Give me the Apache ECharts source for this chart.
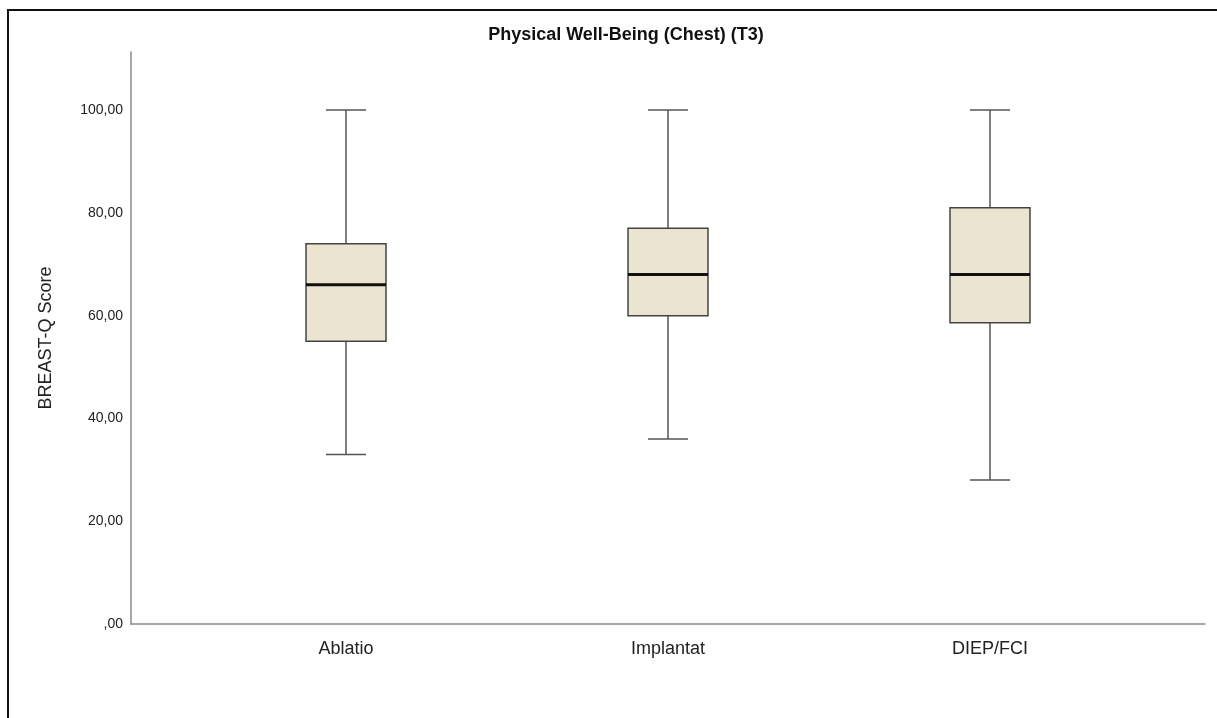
<!DOCTYPE html>
<html>
<head>
<meta charset="utf-8">
<script src="https://cdn.jsdelivr.net/npm/echarts@6/dist/echarts.min.js"></script>
<style>
  html, body { margin: 0; padding: 0; background: #fff; }
  #chart { width: 1217px; height: 718px; }
</style>
</head>
<body>
<div id="chart"></div>
<script>
// Groups and their five-number summaries (min, Q1, median, Q3, max)
const categories = ['Ablatio', 'Implantat', 'DIEP/FCI'];
const minima  = [33.0, 36.0, 28.0];
const q1      = [55.0, 60.0, 58.6];
const medians = [66.0, 68.0, 68.0];
const q3      = [74.0, 77.0, 81.0];
const maxima  = [100.0, 100.0, 100.0];
const yTicks  = [0, 20, 40, 60, 80, 100];

const yMax = 111.3;
const font = '"Liberation Sans", Arial, sans-serif';

const boxData = categories.map((c, i) => [i, minima[i], q1[i], medians[i], q3[i], maxima[i]]);

function renderBox(params, api) {
  const idx = api.value(0);
  const lo = api.coord([idx, api.value(1)]);
  const b1 = api.coord([idx, api.value(2)]);
  const md = api.coord([idx, api.value(3)]);
  const b3 = api.coord([idx, api.value(4)]);
  const hi = api.coord([idx, api.value(5)]);
  const cx = lo[0];
  const boxW = 80;
  const capW = 40;
  const whisker = { stroke: '#555', lineWidth: 1.5 };
  return {
    type: 'group',
    children: [
      { type: 'line', shape: { x1: cx, y1: hi[1], x2: cx, y2: b3[1] }, style: whisker },
      { type: 'line', shape: { x1: cx, y1: b1[1], x2: cx, y2: lo[1] }, style: whisker },
      { type: 'line', shape: { x1: cx - capW / 2, y1: hi[1], x2: cx + capW / 2, y2: hi[1] }, style: whisker },
      { type: 'line', shape: { x1: cx - capW / 2, y1: lo[1], x2: cx + capW / 2, y2: lo[1] }, style: whisker },
      { type: 'rect', shape: { x: cx - boxW / 2, y: b3[1], width: boxW, height: b1[1] - b3[1] },
        style: { fill: '#eae4d1', stroke: '#444', lineWidth: 1.5 } },
      { type: 'line', shape: { x1: cx - boxW / 2, y1: md[1], x2: cx + boxW / 2, y2: md[1] },
        style: { stroke: '#111', lineWidth: 3 } }
    ]
  };
}

const chart = echarts.init(document.getElementById('chart'), null, { renderer: 'canvas' });
chart.setOption({
  backgroundColor: '#fff',
  animation: false,
  title: {
    text: 'Physical Well-Being (Chest) (T3)',
    left: 621, top: 21, textAlign: 'center',
    textStyle: { fontFamily: font, fontSize: 18, fontWeight: 'bold', color: '#111' }
  },
  graphic: [
    { type: 'rect', shape: { x: 8, y: 10, width: 1400, height: 900 },
      style: { fill: 'none', stroke: '#111', lineWidth: 2 }, silent: true }
  ],
  grid: [
    { left: 131, right: 12, top: 52, bottom: 94 },
    { left: 185, right: 66, top: 52, bottom: 94 }
  ],
  xAxis: [
    { gridIndex: 0, type: 'value', min: 0, max: 1,
      axisLine: { show: true, lineStyle: { color: '#8a8a8a', width: 1.5 } },
      axisTick: { show: false }, axisLabel: { show: false }, splitLine: { show: false } },
    { gridIndex: 1, type: 'category', data: categories, boundaryGap: true,
      axisLine: { show: false }, axisTick: { show: false }, splitLine: { show: false },
      axisLabel: { fontFamily: font, fontSize: 18, color: '#222', margin: 16 } }
  ],
  yAxis: [
    { gridIndex: 0, type: 'value', min: 0, max: yMax, interval: 20,
      name: 'BREAST-Q Score', nameLocation: 'middle', nameGap: 76,
      nameTextStyle: { fontFamily: font, fontSize: 18, color: '#222' },
      axisLine: { show: true, lineStyle: { color: '#8a8a8a', width: 1.5 } },
      axisTick: { show: false }, splitLine: { show: false },
      axisLabel: {
        fontFamily: font, fontSize: 14, color: '#222', margin: 8, showMaxLabel: false,
        formatter: v => yTicks.includes(v) ? (v === 0 ? ',00' : v.toFixed(2).replace('.', ',')) : ''
      } },
    { gridIndex: 1, type: 'value', min: 0, max: yMax, show: false }
  ],
  series: [
    { type: 'custom', xAxisIndex: 1, yAxisIndex: 1, renderItem: renderBox,
      encode: { x: 0, y: [1, 2, 3, 4, 5] }, data: boxData }
  ]
});
</script>
</body>
</html>
